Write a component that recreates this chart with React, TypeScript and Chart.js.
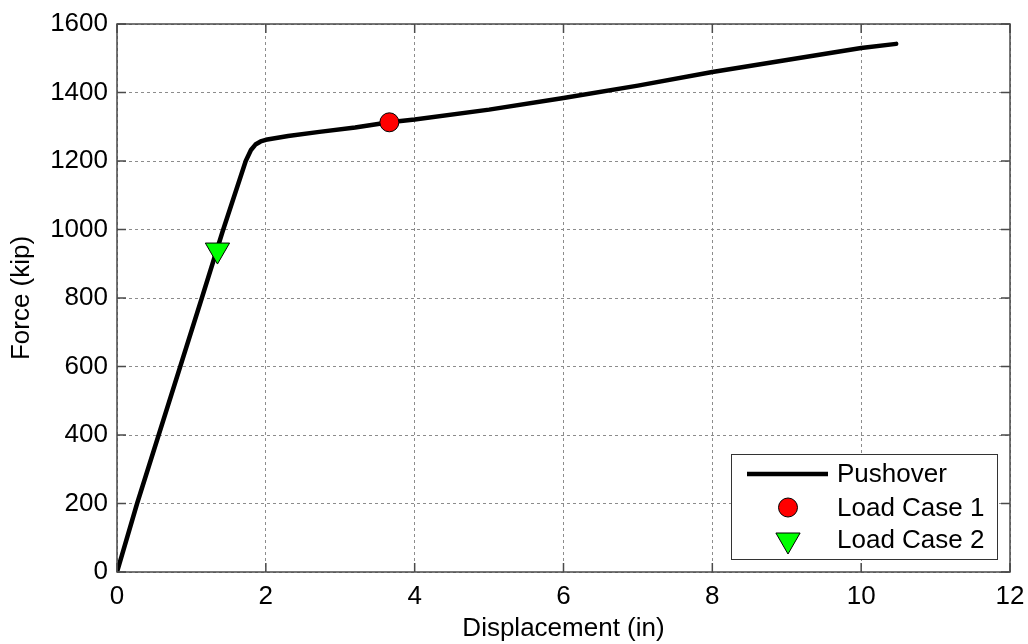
import React, { useEffect, useRef } from "react";
import { Chart, registerables } from "chart.js";

Chart.register(...registerables);

const pushoverX = [0, 0.27, 0.56, 0.85, 1.14, 1.42, 1.73, 1.8, 1.86, 1.93, 2.0, 2.3, 2.72, 3.2, 3.66, 4.0, 5.0, 6.0, 7.0, 8.0, 9.0, 10.0, 10.47];
const pushoverY = [0, 200, 400, 600, 800, 995, 1200, 1232, 1248, 1257, 1262, 1273, 1285, 1298, 1313, 1321, 1350, 1384, 1420, 1460, 1495, 1530, 1542];
const loadCase1 = { x: 3.66, y: 1313 };
const loadCase2 = { x: 1.35, y: 940 };
const legendLabels = ["Pushover", "Load Case 1", "Load Case 2"];
const xTitle = "Displacement (in)";
const yTitle = "Force (kip)";

const FONT = "'Liberation Sans', Arial, sans-serif";
const FS = 26;

function drawTri(ctx: CanvasRenderingContext2D, x: number, y: number, r: number) {
  ctx.beginPath();
  ctx.moveTo(x, y + r);
  ctx.lineTo(x - r * Math.sin(Math.PI / 3), y - r / 2);
  ctx.lineTo(x + r * Math.sin(Math.PI / 3), y - r / 2);
  ctx.closePath();
  ctx.fillStyle = "#00ff00";
  ctx.fill();
  ctx.lineWidth = 1;
  ctx.strokeStyle = "#000";
  ctx.stroke();
}

const framePlugin = {
  id: "frame",
  afterDatasetsDraw(chart: any) {
    const { ctx, chartArea } = chart;
    const { left, right, top, bottom } = chartArea;
    ctx.save();
    ctx.strokeStyle = "#4a4a4a";
    ctx.lineWidth = 1.5;
    ctx.strokeRect(left, top, right - left, bottom - top);
    const tl = 9;
    ctx.beginPath();
    const xs = chart.scales.x;
    const ys = chart.scales.y;
    xs.ticks.forEach((t: any) => {
      const px = xs.getPixelForValue(t.value);
      ctx.moveTo(px, bottom);
      ctx.lineTo(px, bottom - tl);
      ctx.moveTo(px, top);
      ctx.lineTo(px, top + tl);
    });
    ys.ticks.forEach((t: any) => {
      const py = ys.getPixelForValue(t.value);
      ctx.moveTo(left, py);
      ctx.lineTo(left + tl, py);
      ctx.moveTo(right, py);
      ctx.lineTo(right - tl, py);
    });
    ctx.stroke();

    // legend
    const bw = 266;
    const bh = 105;
    const bx = right - 13 - bw;
    const by = bottom - 13 - bh;
    ctx.fillStyle = "#fff";
    ctx.fillRect(bx, by, bw, bh);
    ctx.strokeStyle = "#333";
    ctx.lineWidth = 1;
    ctx.strokeRect(bx + 0.5, by + 0.5, bw, bh);
    const rows = [by + 20, by + 53.5, by + 86];
    const sx = bx + 57;
    ctx.beginPath();
    ctx.moveTo(bx + 16, rows[0]);
    ctx.lineTo(bx + 97, rows[0]);
    ctx.strokeStyle = "#000";
    ctx.lineWidth = 4.5;
    ctx.stroke();
    ctx.beginPath();
    ctx.arc(sx, rows[1], 9.5, 0, Math.PI * 2);
    ctx.fillStyle = "#ff0000";
    ctx.fill();
    ctx.lineWidth = 1;
    ctx.strokeStyle = "#000";
    ctx.stroke();
    drawTri(ctx, sx, rows[2], 14);
    ctx.fillStyle = "#000";
    ctx.font = `${FS}px ${FONT}`;
    ctx.textAlign = "left";
    ctx.textBaseline = "middle";
    legendLabels.forEach((l, i) => ctx.fillText(l, bx + 106, rows[i] + 1));
    ctx.restore();
  },
};

export default function App() {
  const ref = useRef<HTMLCanvasElement>(null);
  useEffect(() => {
    document.body.style.margin = "0";
    Chart.defaults.font.family = FONT;
    Chart.defaults.color = "#000";
    const chart = new Chart(ref.current!, {
      type: "scatter",
      data: {
        datasets: [
          {
            label: legendLabels[1],
            data: [loadCase1],
            pointStyle: "circle",
            pointRadius: 9.5,
            backgroundColor: "#ff0000",
            borderColor: "#000",
            borderWidth: 1,
            order: 0,
          },
          {
            label: legendLabels[2],
            data: [loadCase2],
            pointStyle: "triangle",
            rotation: 180,
            pointRadius: 14,
            backgroundColor: "#00ff00",
            borderColor: "#000",
            borderWidth: 1,
            order: 0,
          },
          {
            label: legendLabels[0],
            data: pushoverX.map((x, i) => ({ x, y: pushoverY[i] })),
            showLine: true,
            borderColor: "#000",
            borderWidth: 4.5,
            pointRadius: 0,
            tension: 0,
            borderJoinStyle: "round",
            borderCapStyle: "round",
            order: 1,
          } as any,
        ],
      },
      options: {
        animation: false,
        responsive: false,
        layout: { padding: { top: 24, right: 18, left: 0, bottom: 0 } },
        plugins: { legend: { display: false }, tooltip: { enabled: false } },
        scales: {
          x: {
            type: "linear",
            min: 0,
            max: 12,
            ticks: { stepSize: 2, padding: 9, font: { size: FS }, maxRotation: 0, callback: (v: any) => String(v) },
            grid: { color: "#8c8c8c", drawTicks: false, lineWidth: 1 },
            border: { display: false, dash: [3, 3] },
            title: { display: true, text: xTitle, font: { size: FS }, padding: { top: 0, bottom: 0 } },
            afterFit: (s: any) => {
              s.height = 72;
              s.paddingLeft = 0;
              s.paddingRight = 0;
            },
          },
          y: {
            type: "linear",
            min: 0,
            max: 1600,
            ticks: { stepSize: 200, padding: 9, font: { size: FS }, callback: (v: any) => String(v) },
            grid: { color: "#8c8c8c", drawTicks: false, lineWidth: 1 },
            border: { display: false, dash: [3, 3] },
            title: { display: true, text: yTitle, font: { size: FS }, padding: { top: 6, bottom: 0 } },
            afterFit: (s: any) => {
              s.width = 117;
              s.paddingTop = 0;
              s.paddingBottom = 0;
            },
          },
        },
      },
      plugins: [framePlugin],
    });
    return () => chart.destroy();
  }, []);
  return (
    <div style={{ width: 1028, height: 644 }}>
      <canvas ref={ref} width={1028} height={644} />
    </div>
  );
}
